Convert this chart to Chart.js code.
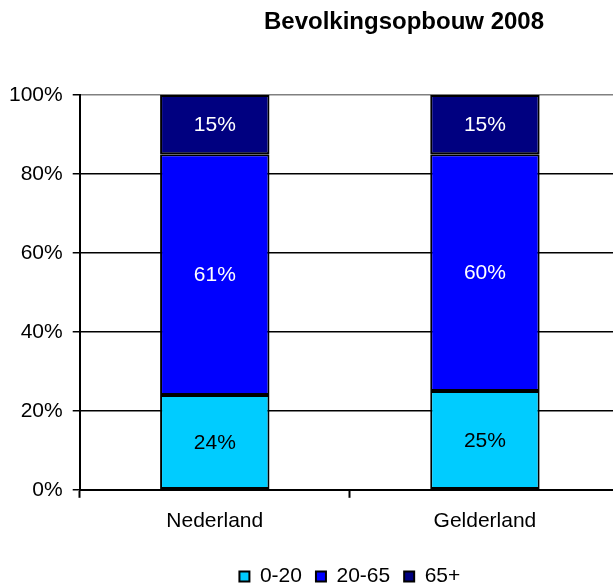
<!DOCTYPE html>
<html>
<head>
<meta charset="utf-8">
<script src="https://cdn.jsdelivr.net/npm/chart.js@4"></script>
<style>
  body { margin: 0; overflow: hidden; background: #fff; }
  #wrap { position: relative; width: 700px; height: 587px; }
  #title {
    position: absolute; left: 0; top: 7px; width: 808px;
    text-align: center; font: bold 24px "Liberation Sans", Arial, sans-serif; color: #000;
  }
</style>
</head>
<body>
<div id="wrap">
  <canvas id="myChart" width="700" height="587"></canvas>
  <div id="title">Bevolkingsopbouw 2008</div>
</div>
<script>
var regios = ["Nederland", "Gelderland"];
var jong = [24, 25];
var middel = [61, 60];
var oud = [15, 15];
var yTicks = [0, 20, 40, 60, 80, 100];

var fontName = '"Liberation Sans", Arial, sans-serif';

// percentages written inside the bars
var labelPlugin = {
    id: "segmentLabels",
    afterDatasetsDraw: function(chart) {
        var ctx = chart.ctx;
        ctx.save();
        ctx.font = "21px " + fontName;
        ctx.textAlign = "center";
        ctx.textBaseline = "middle";
        chart.data.datasets.forEach(function(ds, i) {
            var meta = chart.getDatasetMeta(i);
            meta.data.forEach(function(bar, j) {
                ctx.fillStyle = ds.labelColor;
                ctx.fillText(ds.data[j] + "%", bar.x, (bar.y + bar.base) / 2 + 1);
            });
        });
        ctx.restore();
    }
};

new Chart("myChart", {
    type: "bar",
    data: {
        labels: regios,
        datasets: [{
            label: "0-20",
            data: jong,
            backgroundColor: "#00ccff",
            borderColor: "#000",
            borderWidth: 2,
            borderSkipped: false,
            labelColor: "#000"
        }, {
            label: "20-65",
            data: middel,
            backgroundColor: "#0000ff",
            borderColor: "#000",
            borderWidth: 2,
            borderSkipped: false,
            labelColor: "#fff"
        }, {
            label: "65+",
            data: oud,
            backgroundColor: "#000080",
            borderColor: "#000",
            borderWidth: 2,
            borderSkipped: false,
            labelColor: "#fff"
        }]
    },
    options: {
        responsive: false,
        animation: false,
        categoryPercentage: 1,
        barPercentage: 0.405,
        layout: { padding: { top: 95, right: 80, left: -1, bottom: -10 } },
        plugins: {
            tooltip: { enabled: false },
            legend: {
                position: "bottom",
                fullSize: false,
                labels: {
                    font: { family: fontName, size: 21 },
                    color: "#000",
                    boxWidth: 10,
                    boxHeight: 10,
                    padding: 14
                }
            }
        },
        scales: {
            x: {
                stacked: true,
                afterFit: function(axis) { axis.height += 7; },
                grid: { drawOnChartArea: false, drawTicks: true, tickLength: 8, tickColor: "#000", tickWidth: 2 },
                border: { color: "#000", width: 2 },
                ticks: { color: "#000", font: { family: fontName, size: 21 }, padding: 11 }
            },
            y: {
                stacked: true,
                min: 0,
                max: 100,
                afterBuildTicks: function(axis) {
                    axis.ticks = yTicks.map(function(v) { return { value: v }; });
                },
                grid: {
                    color: function(c) { return c.tick && c.tick.value == 100 ? "#808080" : "#000"; },
                    lineWidth: 1.5,
                    tickLength: 7,
                    tickColor: "#000"
                },
                border: { color: "#000", width: 2 },
                ticks: {
                    color: "#000",
                    font: { family: fontName, size: 21 },
                    padding: 10,
                    callback: function(v) { return v + "%"; }
                }
            }
        }
    },
    plugins: [labelPlugin]
});
</script>
</body>
</html>
